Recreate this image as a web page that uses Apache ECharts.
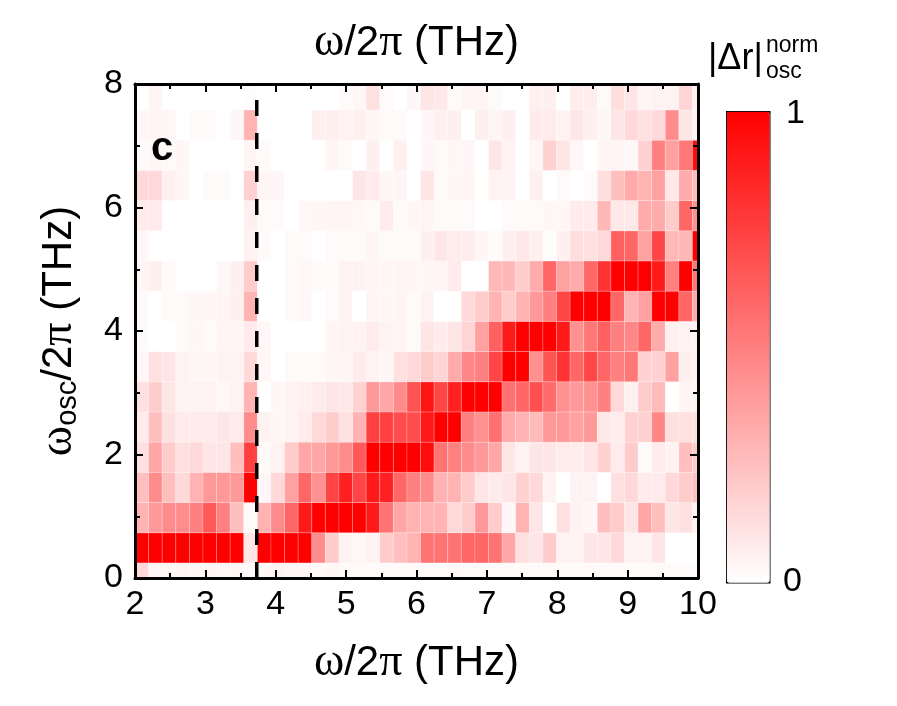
<!DOCTYPE html>
<html>
<head>
<meta charset="utf-8">
<title>osc heatmap</title>
<script src="https://cdn.jsdelivr.net/npm/echarts@6.0.0/dist/echarts.min.js"></script>
<style>
html, body { margin: 0; padding: 0; background: #fff; }
#chart { width: 897px; height: 706px; }
</style>
</head>
<body>
<div id="chart"></div>
<script>
// column centres, omega/2pi (THz)
var omega = [2.097, 2.290, 2.483, 2.677, 2.870, 3.063, 3.256, 3.449, 3.643, 3.836,
    4.029, 4.222, 4.415, 4.609, 4.802, 4.995, 5.188, 5.381, 5.575, 5.768,
    5.961, 6.154, 6.347, 6.541, 6.734, 6.927, 7.120, 7.313, 7.507, 7.700,
    7.893, 8.086, 8.279, 8.473, 8.666, 8.859, 9.052, 9.245, 9.439, 9.632,
    9.825, 10.018];
// row centres, omega_osc/2pi (THz)
var omegaOsc = [0, 0.489, 0.978, 1.467, 1.956, 2.445, 2.934, 3.423, 3.912,
    4.401, 4.890, 5.379, 5.868, 6.357, 6.846, 7.335, 7.824];

// |dr|osc normalised, one list per row (bottom to top)
var r00 = [0.15,0.03,0.03,0.04,0.03,0.04,0.03,0.03,0.02, 0.03,0.05,0.04,0.03,0.02,0.03,0.02,0.02,0.02,0.02,0.02,0.02, 0.02,0.02,0.03,0.02,0.02,0.02,0.02,0.02,0.02,0.02,0.02,0.02,0.02,0.02,0.02,0.02,0.02,0.02,0.02,0.02,0.02];
var r01 = [1,1,1,1,1,1,1,1,0.1, 1,1,1,1,0.45,0.2,0.05,0.03,0.05,0.2,0.25,0.3, 0.55,0.55,0.55,0.6,0.6,0.55,0.35,0.12,0.1,0.2,0.05,0.05,0.1,0.1,0.15,0.05,0.05,0.1,0,0,0];
var r02 = [0.3,0.4,0.45,0.45,0.5,0.65,0.5,0.25,0.02, 0.3,0.45,0.6,0.9,1,1,1,1,0.9,0.55,0.35,0.3, 0.3,0.3,0.15,0.2,0.4,0.2,0.03,0.3,0.1,0,0.12,0.05,0.03,0.25,0.2,0.1,0.35,0.25,0.1,0.12,0.05];
var r03 = [0.25,0.45,0.25,0.15,0.3,0.4,0.4,0.4,1, 0.03,0.15,0.37,0.6,0.43,0.73,0.87,0.73,0.9,0.87,0.6,0.5, 0.45,0.3,0.3,0.2,0.1,0.08,0.1,0.18,0.15,0.05,0,0.05,0.05,0,0.12,0.15,0.08,0.08,0.15,0.2,0.25];
var r04 = [0.12,0.35,0.2,0.12,0.15,0.1,0.1,0.25,0.75, 0.02,0.05,0.2,0.35,0.35,0.4,0.45,0.65,1,1,1,1, 0.95,0.55,0.5,0.45,0.4,0.35,0.1,0.05,0.1,0.1,0.08,0.07,0.1,0.18,0.08,0.2,0.02,0.08,0.05,0.25,0.2];
var r05 = [0.08,0.25,0.12,0.08,0.08,0.08,0.1,0.08,0.45, 0.05,0.03,0.05,0.08,0.15,0.2,0.12,0.3,0.75,0.75,0.7,0.7, 0.9,1,1,0.5,0.43,0.56,0.33,0.3,0.27,0.4,0.4,0.37,0.4,0.09,0.07,0.18,0.18,0.47,0.12,0.12,0.12];
var r06 = [0.12,0.2,0.1,0.05,0.05,0.05,0.03,0.05,0.3, 0,0.03,0.05,0.06,0.08,0.1,0.09,0.18,0.4,0.35,0.45,0.68, 0.92,0.73,0.87,1,1,1,0.56,0.6,0.69,0.58,0.43,0.4,0.43,0.5,0.15,0.06,0.2,0.27,0,0.04,0.04];
var r07 = [0.03,0.12,0.1,0.05,0.03,0.03,0.05,0.05,0.15, 0.03,0,0.02,0.02,0.02,0.03,0.04,0.08,0.05,0.03,0.12,0.15, 0.2,0.17,0.33,0.47,0.5,0.73,1,1,0.43,0.67,0.8,0.6,0.73,0.6,0.5,0.53,0.18,0.18,0.37,0.06,0.05];
var r08 = [0.02,0,0,0.02,0.03,0.02,0.04,0.04,0.08, 0.03,0,0,0,0,0.04,0.05,0.05,0.08,0.05,0.04,0.02, 0.1,0.08,0.1,0.17,0.37,0.62,0.9,1,1,1,0.9,0.43,0.53,0.62,0.5,0.47,0.6,0.33,0.06,0.05,0.05];
var r09 = [0.02,0,0.02,0.02,0.03,0.04,0.04,0.06,0.3, 0,0,0.02,0.03,0,0.02,0.05,0,0.04,0.03,0.04,0.02, 0.05,0,0,0.15,0.2,0.3,0.2,0.3,0.4,0.5,0.73,1,1,1,0.6,0.3,0.37,1,1,0.6,0.33];
var r10 = [0.04,0.06,0.02,0,0,0,0.03,0.06,0.2, 0,0,0.02,0.03,0.02,0.02,0.05,0.05,0.04,0.03,0.04,0.03, 0.03,0.04,0.08,0,0,0.28,0.28,0.2,0.33,0.6,0.37,0.33,0.6,0.8,1,1,1,0.9,0.5,1,0.53];
var r11 = [0.03,0,0,0,0,0,0,0,0.05, 0.02,0,0.02,0.02,0,0.02,0.02,0.02,0.04,0.02,0.02,0.02, 0.06,0.1,0.08,0.07,0.03,0.02,0.06,0.09,0.06,0.01,0.06,0.13,0.12,0.15,0.62,0.6,0.37,0.73,0.28,0.28,1];
var r12 = [0.08,0.08,0,0,0,0,0,0,0.06, 0.02,0.02,0,0.03,0.03,0.04,0.04,0.03,0.02,0.08,0.02,0.03, 0.04,0.02,0.02,0.02,0,0,0.02,0.02,0.02,0.03,0.03,0.08,0.08,0.28,0.09,0.09,0.33,0.33,0.2,0.6,0.43];
var r13 = [0.15,0.15,0.06,0.03,0,0.02,0.02,0,0.18, 0.04,0.03,0,0,0,0,0,0.1,0.08,0.03,0.04,0, 0.1,0.02,0.03,0.04,0,0.05,0.05,0,0.06,0,0.02,0,0.02,0.13,0.25,0.33,0.3,0.37,0.09,0.33,0.27];
var r14 = [0.02,0.03,0.02,0.03,0,0,0,0,0.04, 0.02,0,0,0,0,0.04,0.02,0,0.06,0,0.06,0, 0.03,0.02,0.03,0.03,0,0.1,0.05,0,0.04,0.18,0.1,0.03,0,0.04,0.04,0.03,0.18,0.5,0.37,0.53,0.95];
var r15 = [0.03,0.04,0.03,0,0.02,0.02,0,0.03,0.3, 0,0,0,0,0.06,0.06,0.05,0.06,0.03,0.02,0.02,0, 0.03,0.06,0.06,0,0.06,0.04,0.06,0,0.08,0.08,0.05,0.1,0.06,0.03,0.1,0.15,0.12,0.15,0.45,0.1,0.05];
var r16 = [0,0.04,0,0,0,0,0,0,0.01, 0,0,0,0,0,0,0.02,0.03,0.12,0.02,0,0.03, 0.1,0.09,0.02,0.04,0.04,0.02,0,0,0.06,0.06,0,0.07,0.07,0.02,0.13,0.1,0.04,0.05,0.05,0.17,0.06];
var rows = [r00, r01, r02, r03, r04, r05, r06, r07, r08, r09, r10, r11, r12, r13, r14, r15, r16];

var dashX = 3.73;     // vertical dashed marker
var cellW = 0.1932;   // bin width along omega
var cellH = 0.489;    // bin height along omega_osc

var chart = echarts.init(document.getElementById('chart'));

var data = [];
rows.forEach(function (row, j) {
    row.forEach(function (v, i) {
        data.push([omega[i], omegaOsc[j], v]);
    });
});

function renderCell(params, api) {
    var x = api.value(0);
    var y = api.value(1);
    var a = api.coord([x - cellW / 2, y + cellH / 2]);
    var b = api.coord([x + cellW / 2, y - cellH / 2]);
    var cs = params.coordSys;
    var rect = echarts.graphic.clipRectByRect(
        { x: a[0], y: a[1], width: b[0] - a[0], height: b[1] - a[1] },
        { x: cs.x, y: cs.y, width: cs.width, height: cs.height }
    );
    if (!rect) {
        return;
    }
    return {
        type: 'rect',
        shape: rect,
        style: { fill: api.visual('color'), stroke: 'rgba(255,255,255,0.35)', lineWidth: 0.6 }
    };
}

var font = 'Liberation Sans';
var nameRich = {
    g: { fontFamily: 'Liberation Serif', fontSize: 46, color: '#000' },
    t: { fontFamily: font, fontSize: 42, color: '#000' },
    s: { fontFamily: font, fontSize: 29, color: '#000', padding: [17, 0, 0, 0] }
};
var xName = '{g|ω}{t|/2}{g|π}{t| (THz)}';
var yName = '{g|ω}{s|osc}{t|/2}{g|π}{t| (THz)}';

function axis(extra) {
    var base = {
        type: 'value',
        z: 5,
        axisLine: { show: true, onZero: false, lineStyle: { color: '#000', width: 3 } },
        axisTick: { show: true, inside: true, length: 8, lineStyle: { color: '#000', width: 2 } },
        minorTick: { show: true, splitNumber: 2, length: 5, lineStyle: { color: '#000', width: 2 } },
        splitLine: { show: false },
        minorSplitLine: { show: false },
        axisLabel: { show: false },
        nameTextStyle: { fontSize: 42, rich: nameRich }
    };
    return Object.assign(base, extra);
}

chart.setOption({
    animation: false,
    backgroundColor: '#fff',
    grid: { left: 135, right: 199, top: 84, bottom: 128 },
    xAxis: [
        axis({
            position: 'bottom', min: 2, max: 10, interval: 1,
            axisLabel: { show: true, fontSize: 34, fontFamily: font, color: '#000', margin: 10 },
            name: xName, nameLocation: 'middle', nameGap: 62
        }),
        axis({
            position: 'top', min: 2, max: 10, interval: 1,
            name: xName, nameLocation: 'middle', nameGap: 18
        })
    ],
    yAxis: [
        axis({
            position: 'left', min: 0, max: 8, interval: 2,
            axisLabel: { show: true, fontSize: 34, fontFamily: font, color: '#000', margin: 12 },
            name: yName, nameLocation: 'middle', nameGap: 53
        }),
        axis({ position: 'right', min: 0, max: 8, interval: 2 })
    ],
    visualMap: {
        type: 'continuous',
        min: 0,
        max: 1,
        dimension: 2,
        seriesIndex: 0,
        orient: 'vertical',
        left: 726,
        top: 111,
        itemWidth: 43,
        itemHeight: 471,
        calculable: false,
        hoverLink: false,
        padding: 0,
        borderColor: '#000',
        borderWidth: 1.5,
        inRange: { color: ['#ffffff', '#ff0000'] }
    },
    graphic: [
        { type: 'text', style: { text: '1', x: 786, y: 114, font: '34px "Liberation Sans"', fill: '#000', verticalAlign: 'middle' } },
        { type: 'text', style: { text: '0', x: 783, y: 582, font: '34px "Liberation Sans"', fill: '#000', verticalAlign: 'middle' } },
        { type: 'text', style: { text: '|Δr|', x: 708, y: 59, font: '36px "Liberation Sans"', fill: '#000', verticalAlign: 'middle' } },
        { type: 'text', style: { text: 'norm', x: 766, y: 46, font: '23px "Liberation Sans"', fill: '#000', verticalAlign: 'middle' } },
        { type: 'text', style: { text: 'osc', x: 766, y: 72, font: '23px "Liberation Sans"', fill: '#000', verticalAlign: 'middle' } },
        { type: 'text', z: 10, style: { text: 'c', x: 151, y: 149, font: 'bold 40px "Liberation Sans"', fill: '#000', verticalAlign: 'middle' } }
    ],
    series: [
        {
            type: 'custom',
            renderItem: renderCell,
            encode: { x: 0, y: 1 },
            data: data,
            z: 1
        },
        {
            type: 'line',
            data: [[dashX, 0], [dashX, 8]],
            symbol: 'none',
            z: 4,
            lineStyle: { color: '#000', width: 3.5, type: [16, 17] }
        }
    ]
});
</script>
</body>
</html>
